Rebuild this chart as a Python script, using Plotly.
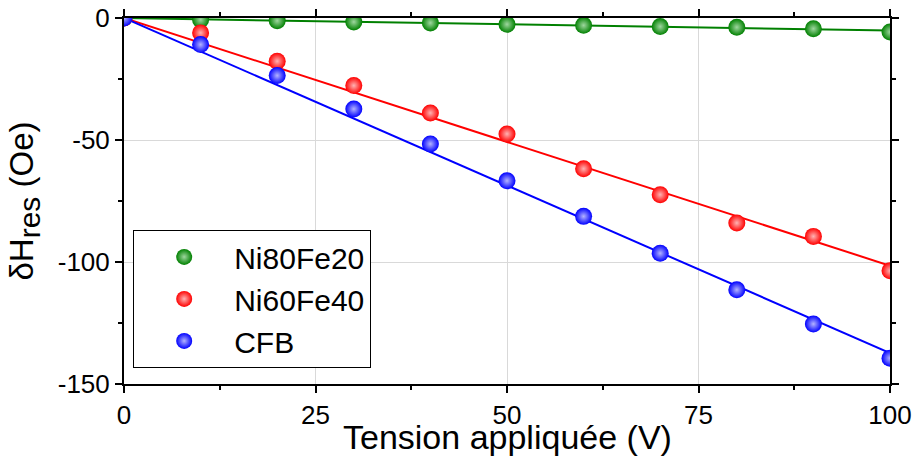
import numpy as np
import plotly.graph_objects as go

voltage = [0, 10, 20, 30, 40, 50, 60, 70, 80, 90, 100]
ni80fe20 = [0, -0.7, -1.1, -1.6, -2.0, -2.6, -3.0, -3.5, -3.8, -4.4, -5.7]
ni60fe40 = [0, -6.1, -17.7, -27.7, -38.9, -47.5, -61.8, -72.4, -84.0, -89.5, -103.6]
cfb = [0, -10.9, -23.6, -37.3, -51.6, -66.7, -81.3, -96.4, -111.4, -125.4, -139.4]

series_names = ["Ni80Fe20", "Ni60Fe40", "CFB"]
series_values = [ni80fe20, ni60fe40, cfb]
colors = ["#008000", "#ff0000", "#0000ff"]
highlights = ["#9fd79f", "#ffb3b3", "#b3b3ff"]

x_ticks = [0, 25, 50, 75, 100]
x_ticktext = ["0", "25", "50", "75", "100"]
y_ticks = [0, -50, -100, -150]
y_ticktext = ["0", "-50", "-100", "-150"]

FONT = "Liberation Sans, Arial, sans-serif"
fig = go.Figure()
x = np.array(voltage, dtype=float)
for name, vals, col in zip(series_names, series_values, colors):
    y = np.array(vals, dtype=float)
    slope = float(np.sum(x * y) / np.sum(x * x))
    fig.add_trace(go.Scatter(x=x, y=slope * x, mode="lines",
                             line=dict(color=col, width=2), showlegend=False,
                             hoverinfo="skip"))
for name, vals, col, hl in zip(series_names, series_values, colors, highlights):
    fig.add_trace(go.Scatter(x=voltage, y=vals, mode="markers", name=name,
                             marker=dict(size=17, color=col,
                                         gradient=dict(type="radial", color=hl),
                                         line=dict(width=0))))

axis_common = dict(showline=True, linecolor="black", linewidth=2, mirror="allticks",
                   ticks="outside", ticklen=7, tickwidth=1.5, tickcolor="black",
                   showgrid=True, gridcolor="#d9d9d9", gridwidth=1, zeroline=False,
                   ticklabeloverflow="allow",
                   tickfont=dict(family=FONT, size=26, color="black"))
fig.update_xaxes(range=[0, 100], tickvals=x_ticks, ticktext=x_ticktext, **axis_common,
                 minor=dict(dtick=12.5, ticklen=4, tickcolor="black", showgrid=False))
fig.update_yaxes(range=[-150, 0], tickvals=y_ticks, ticktext=y_ticktext, **axis_common,
                 minor=dict(dtick=25, ticklen=4, tickcolor="black", showgrid=False),
                 title=dict(text="δH<sub><span style='font-size:30px'>res</span></sub> (Oe)",
                            font=dict(family=FONT, size=33, color="black"),
                            standoff=14))
fig.add_annotation(text="Tension appliquée (V)", xref="paper", yref="paper",
                   x=0.5, y=-0.146, xanchor="center", yanchor="middle", showarrow=False,
                   font=dict(family=FONT, size=34, color="black"))
fig.update_layout(
    width=913, height=464,
    margin=dict(l=124, r=22.5, t=18, b=80, autoexpand=False),
    plot_bgcolor="white", paper_bgcolor="white",
    legend=dict(x=0.012, y=0.044, xanchor="left", yanchor="bottom",
                bgcolor="white", bordercolor="black", borderwidth=1,
                font=dict(family=FONT, size=30, color="black"),
                itemwidth=90),
)
fig.write_html("out.html", config={"displayModeBar": False},
               post_script="document.body.style.margin='0';document.body.style.overflow='hidden';")
